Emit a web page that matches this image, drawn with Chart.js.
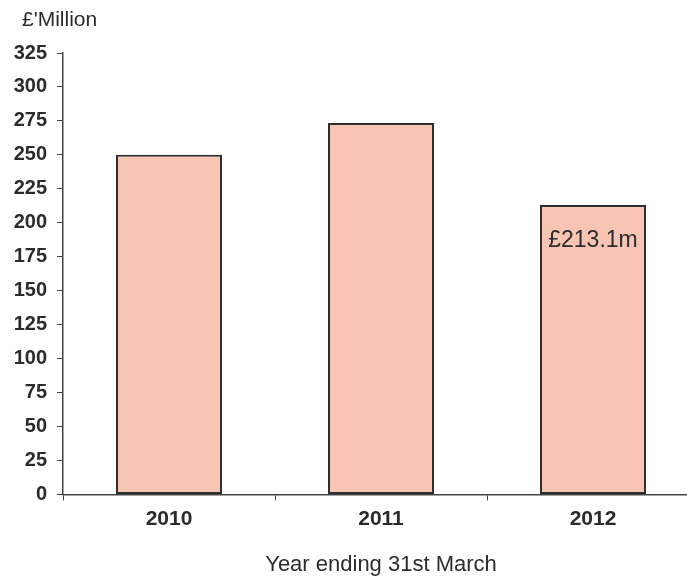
<!DOCTYPE html>
<html>
<head>
<meta charset="utf-8">
<script src="https://cdn.jsdelivr.net/npm/chart.js@4"></script>
<style>
  html, body { margin: 0; padding: 0; background: #fff; overflow: hidden; }
  .wrap { position: relative; width: 700px; height: 580px; }
</style>
</head>
<body>
<div class="wrap">
  <canvas id="bar-chart"></canvas>
</div>
<script>
const years = ["2010", "2011", "2012"];
const income = [250, 273.5, 213.1];
const labelled = [null, null, "£213.1m"];

const textColor = "#2b2b2b";
const font = "'Liberation Sans', Arial, sans-serif";

// unit text in the top left corner and the value label inside the last bar
const annotations = {
  id: "annotations",
  afterDatasetsDraw(chart) {
    const ctx = chart.ctx;
    ctx.save();
    ctx.fillStyle = textColor;
    ctx.font = "21px " + font;
    ctx.textAlign = "left";
    ctx.textBaseline = "middle";
    ctx.fillText("£'Million", 22, 20);

    const meta = chart.getDatasetMeta(0);
    ctx.font = "23px " + font;
    ctx.textAlign = "center";
    labelled.forEach((txt, i) => {
      if (!txt) return;
      const bar = meta.data[i];
      ctx.fillText(txt, bar.x, bar.y + 36);
    });
    ctx.restore();
  }
};

let config = {
  type: "bar",
  data: {
    labels: years,
    datasets: [
      {
        data: income,
        backgroundColor: "#f8c4b4",
        borderColor: "#2e2e2e",
        borderWidth: 2,
        borderSkipped: false,
        categoryPercentage: 1,
        barPercentage: 0.5,
      },
    ],
  },
  options: {
    responsive: true,
    maintainAspectRatio: false,
    animation: false,
    layout: { padding: { top: 53, right: 1, left: 0, bottom: 1 } },
    plugins: {
      legend: { display: false },
      tooltip: { enabled: false },
    },
    scales: {
      x: {
        offset: true,
        grid: {
          offset: true,
          drawOnChartArea: false,
          drawTicks: true,
          tickLength: 6,
          color: "#444",
        },
        border: { color: "#444", width: 1.5 },
        ticks: {
          color: textColor,
          padding: 6,
          font: { family: font, size: 21, weight: "bold" },
        },
        title: {
          display: true,
          text: "Year ending 31st March",
          color: textColor,
          padding: { top: 14, bottom: 1 },
          font: { family: font, size: 22 },
        },
      },
      y: {
        min: 0,
        max: 325,
        afterFit(scale) { scale.width = 63; },
        grid: {
          drawOnChartArea: false,
          drawTicks: true,
          tickLength: 6,
          color: "#444",
        },
        border: { color: "#444", width: 1.5 },
        ticks: {
          stepSize: 25,
          color: textColor,
          padding: 10,
          font: { family: font, size: 20, weight: "bold" },
        },
      },
    },
  },
  plugins: [annotations],
};

let ctx = document.getElementById("bar-chart").getContext("2d");
window.myBar = new Chart(ctx, config);
</script>
</body>
</html>
